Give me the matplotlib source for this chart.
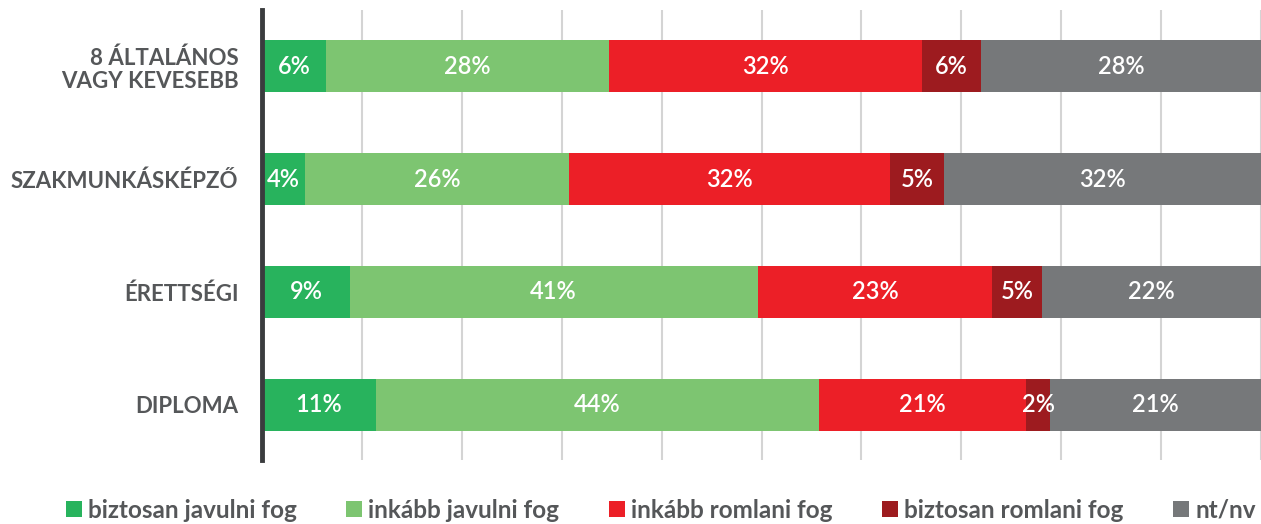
import matplotlib
matplotlib.use("Agg")
import matplotlib.pyplot as plt
import numpy as np

plt.rcParams['font.family'] = ['Lato', 'DejaVu Sans']

categories = ["8 ÁLTALÁNOS\nVAGY KEVESEBB", "SZAKMUNKÁSKÉPZŐ", "ÉRETTSÉGI", "DIPLOMA"]
series_names = ["biztosan javulni fog", "inkább javulni fog", "inkább romlani fog",
                "biztosan romlani fog", "nt/nv"]
colors = ["#28b35d", "#7dc571", "#ec1f27", "#9d1b1f", "#76787a"]

# segment widths (percent)
biztosan_javul = [6.4, 4.3, 8.8, 11.4]
inkabb_javul = [28.3, 26.4, 40.8, 44.4]
inkabb_romlik = [31.4, 32.2, 23.5, 20.7]
biztosan_romlik = [5.9, 5.4, 5.0, 2.4]
ntnv = [28.0, 31.7, 21.9, 21.1]
# printed labels
labels = [
    [6, 4, 9, 11],
    [28, 26, 41, 44],
    [32, 32, 23, 21],
    [6, 5, 5, 2],
    [28, 32, 22, 21],
]

values = [biztosan_javul, inkabb_javul, inkabb_romlik, biztosan_romlik, ntnv]

fig = plt.figure(figsize=(12.61, 5.24), dpi=100)
ax = fig.add_axes([262 / 1261, 1 - 460 / 524, 1 - 262 / 1261, 450 / 524])

y = np.arange(len(categories))
left = np.zeros(len(categories))
for vals, name, col, labs in zip(values, series_names, colors, labels):
    vals = np.array(vals)
    ax.barh(y, vals, left=left, height=0.46, color=col, label=name, zorder=3)
    for yi, l, v, lab in zip(y, left, vals, labs):
        ax.text(l + v / 2, yi, f"{lab}%", ha="center", va="center",
                color="white", fontsize=17, fontweight="semibold", zorder=4)
    left += vals

ax.set_xlim(0, 100)
ax.set_ylim(3.49, -0.5)
ax.set_xticks(np.arange(10, 101, 10))
ax.xaxis.grid(True, color="#d4d4d4", linewidth=1.5, zorder=0)
ax.tick_params(axis="x", length=0, labelbottom=False)
ax.tick_params(axis="y", length=0, pad=17)
ax.set_yticks(y)
ax.set_yticklabels(categories, fontsize=16, fontweight="bold", color="#555759",
                   linespacing=1.15)
for lab in ax.get_yticklabels():
    lab.set_horizontalalignment("right")
for s in ["top", "right", "bottom"]:
    ax.spines[s].set_visible(False)
ax.spines["left"].set_color("#3a3c3e")
ax.spines["left"].set_linewidth(3.5)
ax.spines["left"].set_zorder(5)

leg = fig.legend(loc="center", bbox_to_anchor=(0.524, 1 - 510 / 524), ncol=5,
                 frameon=False, handlelength=0.65, handleheight=0.65,
                 handletextpad=0.25, columnspacing=2.05,
                 prop={"size": 17.5, "weight": "bold"})
for t in leg.get_texts():
    t.set_color("#555759")

fig.savefig("out.png", dpi=100)
